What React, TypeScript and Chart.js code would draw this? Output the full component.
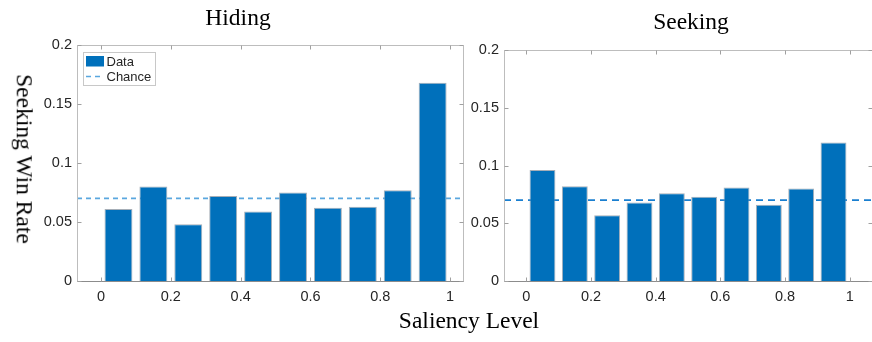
import React, { useEffect, useRef } from "react";
import { Chart, registerables } from "chart.js";

Chart.register(...registerables);

// ---- data ----
const binCenters = [0.05, 0.15, 0.25, 0.35, 0.45, 0.55, 0.65, 0.75, 0.85, 0.95];
const hidingRates = [0.061, 0.080, 0.048, 0.072, 0.059, 0.075, 0.062, 0.063, 0.077, 0.168];
const seekingRates = [0.096, 0.082, 0.057, 0.068, 0.076, 0.073, 0.081, 0.066, 0.080, 0.120];
const chanceRate = 0.07;
const xTickValues = [0, 0.2, 0.4, 0.6, 0.8, 1];
const yTickValues = [0, 0.05, 0.1, 0.15, 0.2];
const seriesLabels = ["Data", "Chance"];
const panelTitles = ["Hiding", "Seeking"];
const yAxisLabel = "Seeking Win Rate";
const xAxisLabel = "Saliency Level";

// ---- styles ----
const BAR_COLOR = "#0070bb";
const BAR_EDGE = "rgba(150,160,170,0.85)";
const TICK_COLOR = "#262626";
const SANS = "'Liberation Sans', Arial, Helvetica, sans-serif";
const SERIF = "'Liberation Serif', 'Times New Roman', Times, serif";

type Panel = {
  values: number[];
  lineColor: string;
  dash: number[];
  xMin: number;
  xMax: number;
  canvasLeft: number;
  canvasWidth: number;
  padTop: number;
  padRight: number;
  yAxisWidth: number;
  showLegend: boolean;
};

const boxPlugin = {
  id: "matlabBox",
  afterDatasetsDraw(chart: any) {
    const { ctx, chartArea: a, scales } = chart;
    const L = Math.round(a.left) + 0.5;
    const R = Math.round(a.right) + 0.5;
    const T = Math.round(a.top) + 0.5;
    const B = Math.round(a.bottom) + 0.5;
    ctx.save();
    ctx.lineWidth = 1;
    ctx.strokeStyle = "#bdbdbd";
    ctx.beginPath();
    ctx.moveTo(L, B); ctx.lineTo(L, T); ctx.lineTo(R, T); ctx.lineTo(R, B);
    ctx.stroke();
    ctx.strokeStyle = "#8c8c8c";
    ctx.beginPath();
    ctx.moveTo(L, B); ctx.lineTo(R, B);
    ctx.stroke();
    // inner tick marks
    ctx.strokeStyle = "#a0a0a0";
    const tl = 4;
    ctx.beginPath();
    for (const v of xTickValues) {
      const x = Math.round(scales.x.getPixelForValue(v)) + 0.5;
      ctx.moveTo(x, B); ctx.lineTo(x, B - tl);
      ctx.moveTo(x, T); ctx.lineTo(x, T + tl);
    }
    for (const v of yTickValues) {
      const y = Math.round(scales.y.getPixelForValue(v)) + 0.5;
      ctx.moveTo(L, y); ctx.lineTo(L + tl, y);
      ctx.moveTo(R, y); ctx.lineTo(R - tl, y);
    }
    ctx.stroke();
    ctx.restore();
  },
};

const legendPlugin = {
  id: "insideLegend",
  afterDraw(chart: any) {
    const opts = chart.options.plugins.insideLegend;
    if (!opts || !opts.show) return;
    const { ctx, chartArea: a } = chart;
    const ds = chart.data.datasets;
    const bx = Math.round(a.left + 6) + 0.5;
    const by = Math.round(a.top + 7) + 0.5;
    const bw = 72;
    const bh = 33;
    ctx.save();
    ctx.fillStyle = "#ffffff";
    ctx.fillRect(bx, by, bw, bh);
    ctx.strokeStyle = "#c8c8c8";
    ctx.lineWidth = 1;
    ctx.strokeRect(bx, by, bw, bh);
    // Data swatch
    ctx.fillStyle = ds[0].backgroundColor;
    ctx.fillRect(bx + 2.5, by + 3.5, 18, 10.5);
    // Chance dashes
    ctx.strokeStyle = ds[1].borderColor;
    ctx.lineWidth = 1.5;
    ctx.setLineDash([5, 4]);
    ctx.beginPath();
    ctx.moveTo(bx + 2.5, by + 24);
    ctx.lineTo(bx + 20, by + 24);
    ctx.stroke();
    ctx.setLineDash([]);
    ctx.fillStyle = TICK_COLOR;
    ctx.font = `13px ${SANS}`;
    ctx.textBaseline = "middle";
    ctx.textAlign = "left";
    ctx.fillText(ds[0].label, bx + 23, by + 9.5);
    ctx.fillText(ds[1].label, bx + 23, by + 24.5);
    ctx.restore();
  },
};

function ChartPanel({ p }: { p: Panel }) {
  const ref = useRef<HTMLCanvasElement>(null);
  useEffect(() => {
    const tickFont = { family: SANS, size: 14.5 };
    const chart = new Chart(ref.current as HTMLCanvasElement, {
      type: "bar",
      data: {
        datasets: [
          {
            type: "bar",
            label: seriesLabels[0],
            data: binCenters.map((x, i) => ({ x, y: p.values[i] })),
            backgroundColor: BAR_COLOR,
            borderColor: BAR_EDGE,
            borderWidth: 1,
            borderSkipped: "bottom",
            barPercentage: 0.8,
            categoryPercentage: 1,
            order: 1,
          } as any,
          {
            type: "line",
            label: seriesLabels[1],
            data: [
              { x: p.xMin, y: chanceRate },
              { x: p.xMax, y: chanceRate },
            ],
            borderColor: p.lineColor,
            borderWidth: 1.6,
            borderDash: p.dash,
            pointRadius: 0,
            fill: false,
            tension: 0,
            order: 2,
          } as any,
        ],
      },
      options: {
        responsive: false,
        animation: false,
        events: [],
        layout: { padding: { top: p.padTop, right: p.padRight, left: 0, bottom: 0 } },
        plugins: {
          legend: { display: false },
          tooltip: { enabled: false },
          title: { display: false },
          insideLegend: { show: p.showLegend },
        } as any,
        scales: {
          x: {
            type: "linear",
            min: p.xMin,
            max: p.xMax,
            offset: false,
            grid: { display: false, drawTicks: false },
            border: { display: false },
            afterBuildTicks: (s: any) => {
              s.ticks = xTickValues.map((v) => ({ value: v }));
            },
            afterFit: (s: any) => {
              s.height = 61;
            },
            ticks: {
              padding: 7,
              font: tickFont,
              color: TICK_COLOR,
              maxRotation: 0,
              autoSkip: false,
              callback: (v: any) => String(v),
            },
          } as any,
          y: {
            type: "linear",
            min: 0,
            max: 0.2,
            grid: { display: false, drawTicks: false },
            border: { display: false },
            afterBuildTicks: (s: any) => {
              s.ticks = yTickValues.map((v) => ({ value: v }));
            },
            afterFit: (s: any) => {
              s.width = p.yAxisWidth;
            },
            ticks: {
              padding: 5,
              font: tickFont,
              color: TICK_COLOR,
              callback: (v: any) => String(v),
            },
          } as any,
        },
      },
      plugins: [boxPlugin, legendPlugin],
    });
    return () => chart.destroy();
  }, []);
  return (
    <canvas
      ref={ref}
      width={p.canvasWidth}
      height={342}
      style={{ position: "absolute", left: p.canvasLeft, top: 0, display: "block" }}
    />
  );
}

const hidingPanel: Panel = {
  values: hidingRates,
  lineColor: "#5aa7df",
  dash: [5, 4],
  xMin: -0.0688,
  xMax: 1.037,
  canvasLeft: 0,
  canvasWidth: 468,
  padTop: 45,
  padRight: 5,
  yAxisWidth: 77,
  showLegend: true,
};

const seekingPanel: Panel = {
  values: seekingRates,
  lineColor: "#1a7fd0",
  dash: [7, 5],
  xMin: -0.069,
  xMax: 1.069,
  canvasLeft: 400,
  canvasWidth: 472,
  padTop: 50,
  padRight: 0,
  yAxisWidth: 104,
  showLegend: false,
};

const textBase: React.CSSProperties = {
  position: "absolute",
  fontFamily: SERIF,
  fontSize: "23.5px",
  lineHeight: "23.5px",
  color: "#000",
  whiteSpace: "nowrap",
};

export default function App() {
  return (
    <div
      style={{
        position: "fixed",
        left: 0,
        top: 0,
        width: 872,
        height: 342,
        background: "#ffffff",
        overflow: "hidden",
      }}
    >
      <ChartPanel p={hidingPanel} />
      <ChartPanel p={seekingPanel} />
      <div style={{ ...textBase, left: 238, top: 6.3, transform: "translateX(-50%)" }}>
        {panelTitles[0]}
      </div>
      <div style={{ ...textBase, left: 691, top: 10.3, transform: "translateX(-50%)" }}>
        {panelTitles[1]}
      </div>
      <div
        style={{
          ...textBase,
          left: 24.4,
          top: 159,
          transform: "translate(-50%, -50%) rotate(90deg)",
        }}
      >
        {yAxisLabel}
      </div>
      <div style={{ ...textBase, left: 469, top: 309.3, transform: "translateX(-50%)" }}>
        {xAxisLabel}
      </div>
    </div>
  );
}
